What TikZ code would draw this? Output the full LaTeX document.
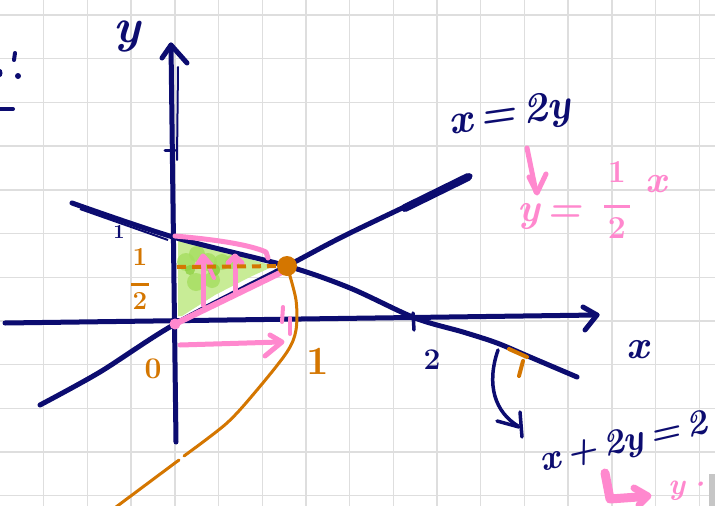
\documentclass[tikz,border=0pt]{standalone}
\usepackage{fontspec}
\usetikzlibrary{arrows.meta}
\definecolor{navy}{RGB}{12,12,112}
\definecolor{pinkc}{RGB}{255,136,206}
\definecolor{orangec}{RGB}{212,118,0}
\definecolor{greenl}{RGB}{200,236,150}
\definecolor{greenm}{RGB}{165,222,95}
\definecolor{greend}{RGB}{135,205,55}
\definecolor{gridc}{RGB}{222,222,222}
\newcommand\hwfs[1]{\fontsize{#1}{#1}\selectfont\bfseries\itshape}
\begin{document}
\begin{tikzpicture}[x=1pt,y=-1pt,
  ax/.style={draw=navy,line width=5pt,line cap=round,line join=round},
  pk/.style={draw=pinkc,line width=5pt,line cap=round,line join=round},
  orc/.style={draw=orangec,line width=3pt,line cap=round,line join=round},
  lab/.style={inner sep=0pt,outer sep=0pt},
]
\useasboundingbox (0,0) rectangle (715,506);
\fill[white] (0,0) rectangle (715,506);
% grid
\foreach \k in {1,...,16} \draw[gridc,line width=1.4pt] ({43.7*\k},0) -- ({43.7*\k},506);
\foreach \k in {0,...,11} \draw[gridc,line width=1.4pt] (0,{15+43.7*\k}) -- (715,{15+43.7*\k});

% key points
\coordinate (O) at (175,324);
\coordinate (P) at (287,266);
\coordinate (Yb) at (176,442);
\coordinate (Yt) at (171,45);
\coordinate (Xl) at (5,323);
\coordinate (Xr) at (597,315);

% green shading
\fill[greenl] (178,240) -- (195,243) -- (232,254) -- (274,266) -- (250,277) -- (215,295) -- (182,316) -- (178,316) -- cycle;
\foreach \p/\r in {{(186,262)}/9,{(197,254)}/8,{(208,262)}/9,{(222,262)}/8,{(196,282)}/9,{(212,280)}/8,{(232,262)}/7}
  \fill[greenm,opacity=0.8] \p circle (\r);
\fill[greend,opacity=0.8] (214,270) circle (6);
\fill[greend,opacity=0.7] (190,270) circle (5);

% axes
\draw[ax] (Yb) -- (Yt);
\draw[ax] (162,58) -- (Yt) -- (187,63);
\draw[navy,line width=2pt,line cap=round] (178,67) -- (177,160);
\draw[navy,line width=3pt,line cap=round] (165,150) -- (175,150);
\draw[ax] (Xl) -- (Xr);
\draw[ax] (583,307) -- (Xr) -- (585,330);
\draw[navy,line width=3.5pt,line cap=round] (413,313) -- (414,330);

% line x+2y=2
\draw[ax] plot[smooth] coordinates {(72,203) (173,237) (P) (350,288) (415,318) (463,332) (497,343) (530,357) (577,377)};
\draw[navy,line width=2pt] (80,209) -- (168,240);
% line x=2y
\draw[ax] plot[smooth] coordinates {(40,405) (100,372) (O) (P) (350,233) (470,176)};
\draw[navy,line width=8pt,line cap=round] (405,208) -- (468,177);

% pink details
\draw[pk] (175,236) .. controls (220,240) and (250,245) .. (266,252) -- (268,258);
\draw[pk,line width=6pt] (O) -- (282,272);
\fill[pinkc] (O) circle (5.5);
\draw[pk] (203,305) -- (203,258);
\draw[pk] (196,267) -- (203,256) -- (211,265);
\draw[pk] (235,292) -- (235,260);
\draw[pk] (228,263) -- (235,256) -- (242,263);
\draw[pk,line width=4pt] (209,267) -- (214,278);
\draw[pk] (180,345) -- (280,342);
\draw[pk] (270,335) -- (282,342) -- (265,356);
\draw[pk,line width=4pt] (283,307) -- (282,322);
\draw[pk,line width=4pt] (290,318) -- (290,334);

% orange
\draw[orangec,line width=4pt,dash pattern=on 9pt off 6pt] (177,267) -- (P);
\fill[orangec] (P) circle (10);
\draw[orc] plot[smooth] coordinates {(P) (296,300) (296,330) (287,352) (257,390) (227,423) (184,456)};
\draw[orc] (179,460) -- (116,507);
\draw[orangec,line width=4pt,line cap=round] (509,349) -- (527,357);
\draw[orangec,line width=4pt,line cap=round] (523,361) -- (519,376);

% curved arrow
\draw[navy,line width=3.5pt,line cap=round] (498,350) .. controls (486,385) and (495,412) .. (518,426);
\draw[navy,line width=3.5pt,line cap=round,line join=round] (497,421) -- (519,427);
\draw[navy,line width=3.5pt,line cap=round] (520,412) -- (522,437);

% labels navy
\node[lab,navy] (ylab) at (127,36) {\hwfs{48}y};
\node[lab,navy] (xlab) at (638,350) {\hwfs{40}x};
\node[lab,navy] (two) at (432,360) {\hwfs{30}\upshape 2};
\node[lab,navy] (oneY) at (119,232) {\hwfs{20}\upshape 1};
\node[lab,navy,rotate=8] (eqA) at (510,116) {\hwfs{42}x\,=\,2y};
\node[lab,navy,rotate=13] (eqB) at (624,444) {\hwfs{36}x\,+\,2y\,=\,2};

% labels orange
\node[lab,orangec,align=center,font={\hwfs{26}\upshape}] (half) at (140,279) {1\\[-6pt]\rule{18pt}{3pt}\\[-2pt]2};
\node[lab,orangec] (zero) at (153,369) {\hwfs{30}\upshape 0};
\node[lab,orangec] (oneX) at (318,361) {\hwfs{40}\upshape 1};

% pink labels
\draw[pk] (527,148) -- (536,192);
\draw[pk] (529,177) -- (537,193) -- (546,174);
\node[lab,pinkc] (eqCa) at (550,216) {\hwfs{40}y\,=};
\node[lab,pinkc,align=center,font={\hwfs{32}\upshape}] (eqCb) at (617,200) {1\\[-6pt]\rule{26pt}{3.5pt}\\[-2pt]2};
\node[lab,pinkc] (eqCc) at (656,184) {\hwfs{38}x};
\draw[pk,line width=9pt] (605,473) -- (610,499) -- (638,497);
\draw[pk,line width=7pt] (634,488) -- (648,496) -- (639,505);
\node[lab,pinkc,anchor=west] (ypart) at (668,491) {\hwfs{30}y·};
\node[lab,pinkc,anchor=west] (eqpart) at (706,493) {\hwfs{30}=};

% top-left marks
\draw[navy,line width=4pt,line cap=round] (15,53) -- (14,60);
\fill[navy] (18,76) circle (3);
\fill[navy] (0,73) ellipse (2.5 and 4);
\draw[navy,line width=4pt,line cap=round] (0,109) -- (13,109);
% gray corner
\fill[gray!45] (709,474) rectangle (715,506);
\end{tikzpicture}
\end{document}
